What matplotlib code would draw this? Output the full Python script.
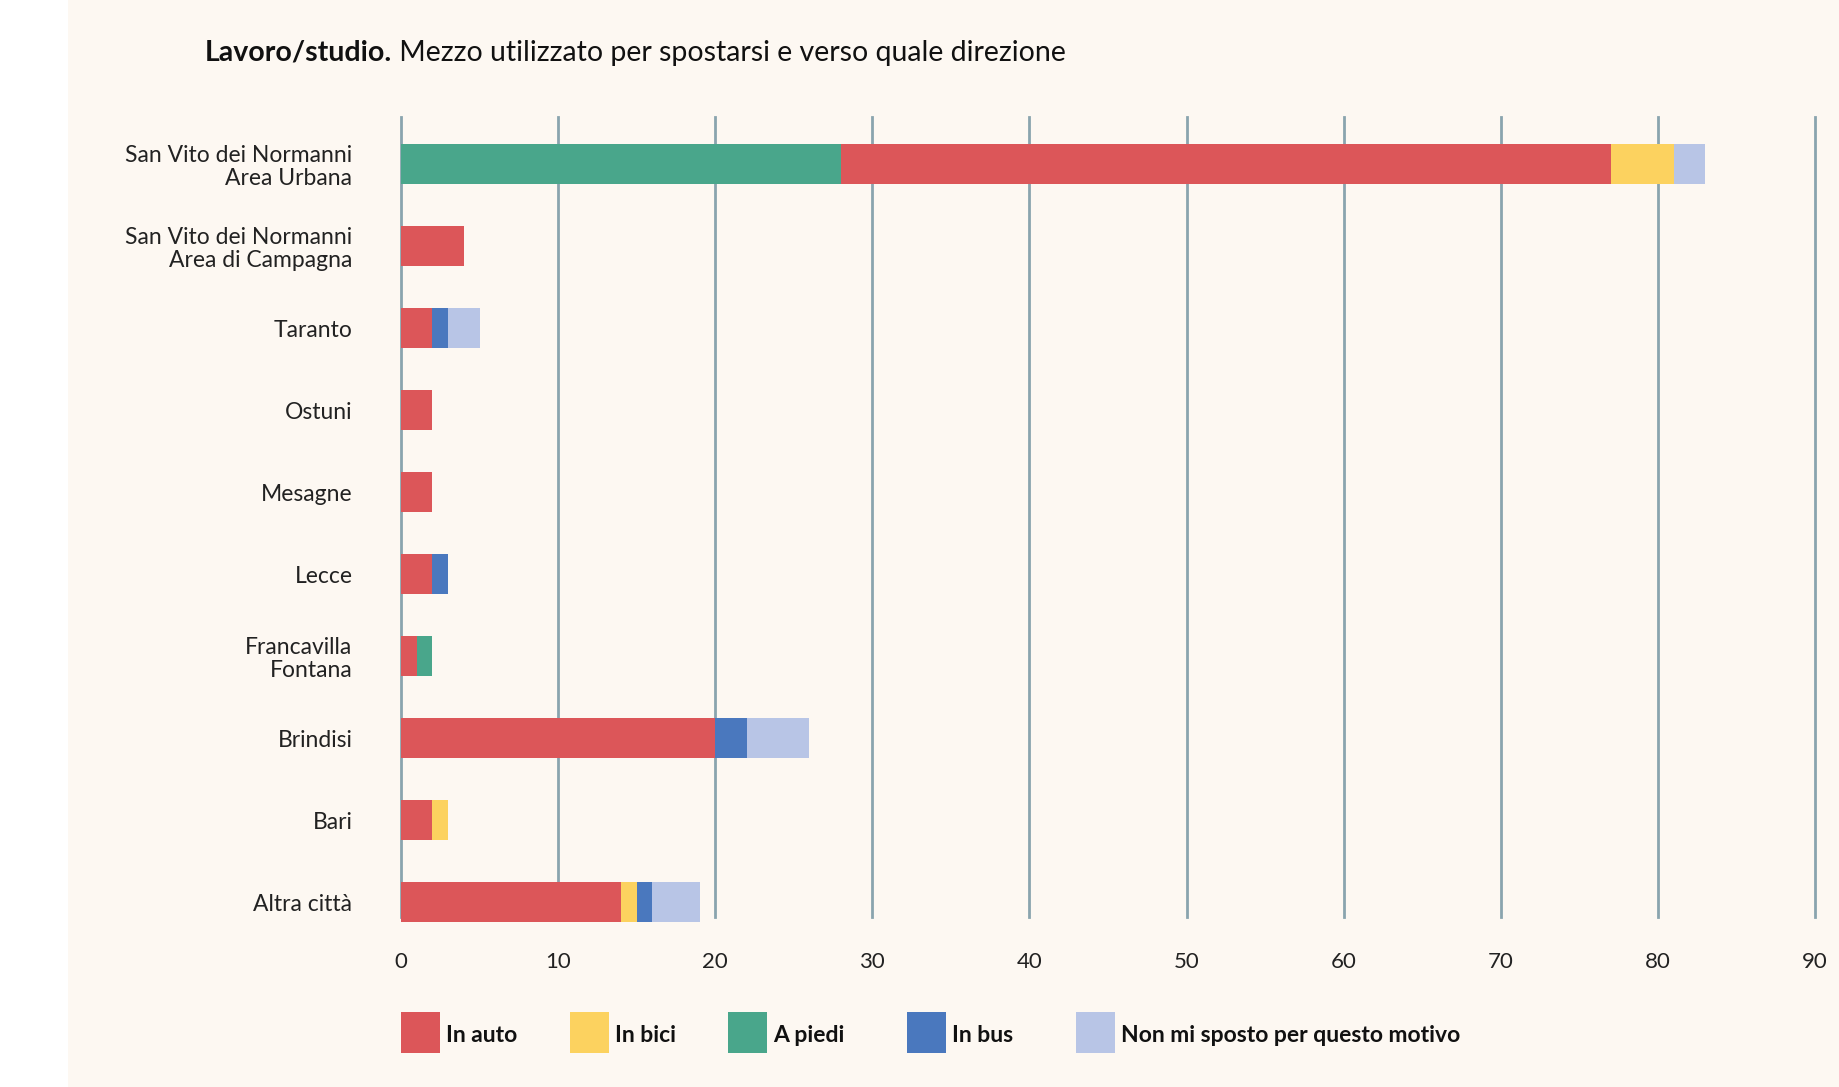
import matplotlib.pyplot as plt
from matplotlib.patches import FancyBboxPatch, Rectangle

plt.rcParams['font.family'] = ['Lato', 'DejaVu Sans']

# --- dati ---
categorie = ['San Vito dei Normanni\nArea Urbana',
             'San Vito dei Normanni\nArea di Campagna',
             'Taranto', 'Ostuni', 'Mesagne', 'Lecce',
             'Francavilla\nFontana', 'Brindisi', 'Bari', 'Altra città']

in_auto  = [49, 4, 2, 2, 2, 2, 1, 20, 2, 14]
in_bici  = [4, 0, 0, 0, 0, 0, 0, 0, 1, 1]
a_piedi  = [28, 0, 0, 0, 0, 0, 1, 0, 0, 0]
in_bus   = [0, 0, 1, 0, 0, 1, 0, 2, 0, 1]
non_mi   = [2, 0, 2, 0, 0, 0, 0, 4, 0, 3]

serie = {
    'In auto': in_auto,
    'In bici': in_bici,
    'A piedi': a_piedi,
    'In bus': in_bus,
    'Non mi sposto per questo motivo': non_mi,
}
colori = {
    'In auto': '#dc5659',
    'In bici': '#fcd25f',
    'A piedi': '#49a68b',
    'In bus': '#4a78be',
    'Non mi sposto per questo motivo': '#b8c5e6',
}
# ordine di impilamento (la prima barra parte da "A piedi")
ordine_default = ['In auto', 'In bici', 'A piedi', 'In bus', 'Non mi sposto per questo motivo']
ordine_urbana = ['A piedi', 'In auto', 'In bici', 'In bus', 'Non mi sposto per questo motivo']

bg = '#fdf8f2'
grid_col = '#8aa4ae'

W, H = 1840, 1087
fig = plt.figure(figsize=(W / 100, H / 100), dpi=100)
fig.patch.set_facecolor('white')

# pannello crema
panel = FancyBboxPatch((68 / W, -0.05), 1.0, 1.1, boxstyle='round,pad=0,rounding_size=0.015',
                       transform=fig.transFigure, facecolor=bg, edgecolor='none', zorder=-5)
fig.patches.append(panel)

ax = fig.add_axes([401 / W, 1 - 917 / H, (1815 - 401) / W, (917 - 117) / H])
ax.set_facecolor('none')
ax.set_zorder(2)

# griglia verticale
for xv in range(0, 100, 10):
    ax.axvline(xv, color=grid_col, linewidth=2, zorder=1, clip_on=False)

for i, cat in enumerate(categorie):
    ordine = ordine_urbana if i == 0 else ordine_default
    left = 0
    for nome in ordine:
        v = serie[nome][i]
        if v > 0:
            ax.barh(i, v, left=left, height=0.49, color=colori[nome], zorder=2, clip_on=False)
            left += v

ax.set_xlim(0, 90)
ax.set_ylim(9.18, -0.573)
ax.set_yticks(range(len(categorie)))
ax.set_yticklabels(categorie, fontsize=16.5, color='#222222', linespacing=1.1)
ax.set_xticks(range(0, 100, 10))
ax.tick_params(axis='both', length=0)
ax.tick_params(axis='y', pad=35)
ax.tick_params(axis='x', pad=25, labelsize=16, labelcolor='#222222')
for s in ax.spines.values():
    s.set_visible(False)

# titolo
t1 = fig.text(205 / W, 1 - 53 / H, 'Lavoro/studio.', fontsize=20.5, fontweight='bold',
              va='center', ha='left', color='#111111')
ax.annotate(' Mezzo utilizzato per spostarsi e verso quale direzione',
            xy=(1, 0.5), xycoords=t1, fontsize=20.5, va='center', ha='left',
            color='#111111', annotation_clip=False)

# legenda
patch_x = [401, 570, 728, 907, 1076]
for px, nome in zip(patch_x, serie.keys()):
    fig.patches.append(Rectangle((px / W, 1 - 1053 / H), 39 / W, 41 / H,
                                 transform=fig.transFigure, facecolor=colori[nome],
                                 edgecolor='none'))
    fig.text((px + 45) / W, 1 - 1036 / H, nome, fontsize=16.5, fontweight='bold',
             va='center', ha='left', color='#111111')

fig.savefig('out.png', dpi=100, facecolor=fig.get_facecolor())
